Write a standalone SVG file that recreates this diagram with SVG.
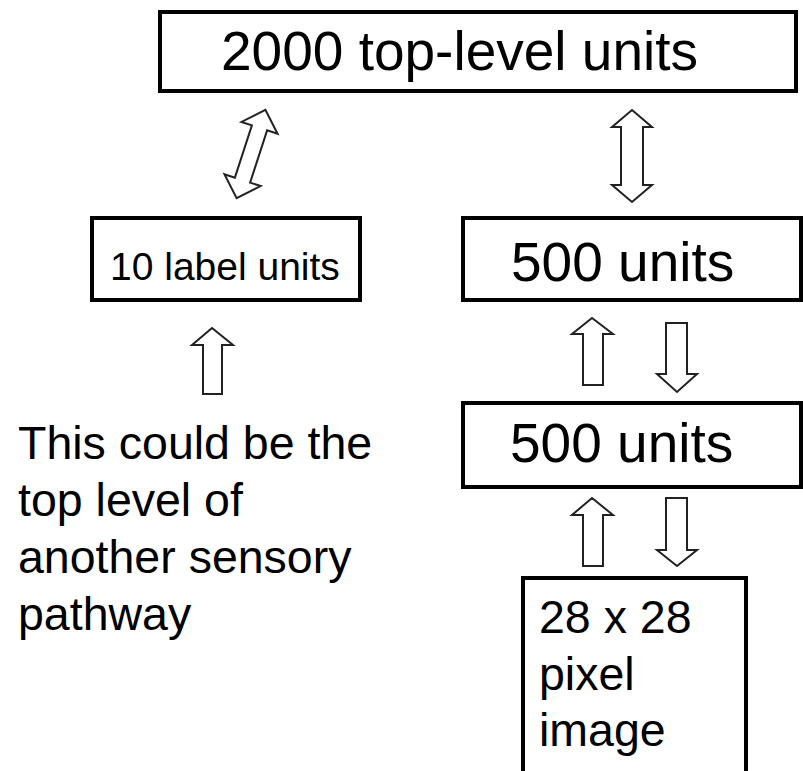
<svg xmlns="http://www.w3.org/2000/svg" width="803" height="771" viewBox="0 0 803 771">
<style>
.box{fill:#fff;stroke:#000;stroke-width:4}
.t{font-family:"Liberation Sans",Arial,sans-serif;fill:#000}
.arr{fill:#fff;stroke:#222;stroke-width:2;stroke-linejoin:miter}
</style>
<rect width="803" height="771" fill="#fff"/>
<g id="connectors">
<polygon class="arr" transform="translate(251,154) rotate(18)" points="0,-46.5 19,-27.5 8,-27.5 8,27.5 19,27.5 0,46.5 -19,27.5 -8,27.5 -8,-27.5 -19,-27.5"/>
<polygon class="arr" points="632,110 652,127 643,127 643,185 652,185 632,202 612,185 621,185 621,127 612,127"/>
<polygon class="arr" points="212,328 233,345 222,345 222,394 203,394 203,345 192,345"/>
<polygon class="arr" points="592,318 613,334 603,334 603,385 583,385 583,334 572,334"/>
<polygon class="arr" points="666,323 687,323 687,374 697,374 677,392 657,374 666,374"/>
<polygon class="arr" points="592,498 613,515 603,515 603,566 583,566 583,515 572,515"/>
<polygon class="arr" points="666,498 687,498 687,550 697,550 677,566 657,550 666,550"/>
</g>
<g id="top">
<rect class="box" x="160" y="12" width="636" height="79"/>
<text class="t" x="221" y="70" font-size="55">2000 top-level units</text>
</g>
<g id="label">
<rect class="box" x="92" y="218" width="268" height="82"/>
<text class="t" x="110" y="280" font-size="39">10 label units</text>
</g>
<g id="h2">
<rect class="box" x="463" y="218" width="338" height="82"/>
<text class="t" x="511" y="281" font-size="55">500 units</text>
</g>
<g id="h1">
<rect class="box" x="463" y="403" width="338" height="84"/>
<text class="t" x="510" y="462" font-size="55">500 units</text>
</g>
<g id="image">
<rect class="box" x="523" y="578" width="223" height="200"/>
<text class="t" font-size="46.5"><tspan x="539" y="633">28 x 28</tspan><tspan x="539" y="690">pixel</tspan><tspan x="539" y="746">image</tspan></text>
</g>
<g id="note">
<text class="t" font-size="46.5"><tspan x="18" y="459">This could be the</tspan><tspan x="18" y="516">top level of</tspan><tspan x="18" y="573">another sensory</tspan><tspan x="18" y="630">pathway</tspan></text>
</g>
</svg>
